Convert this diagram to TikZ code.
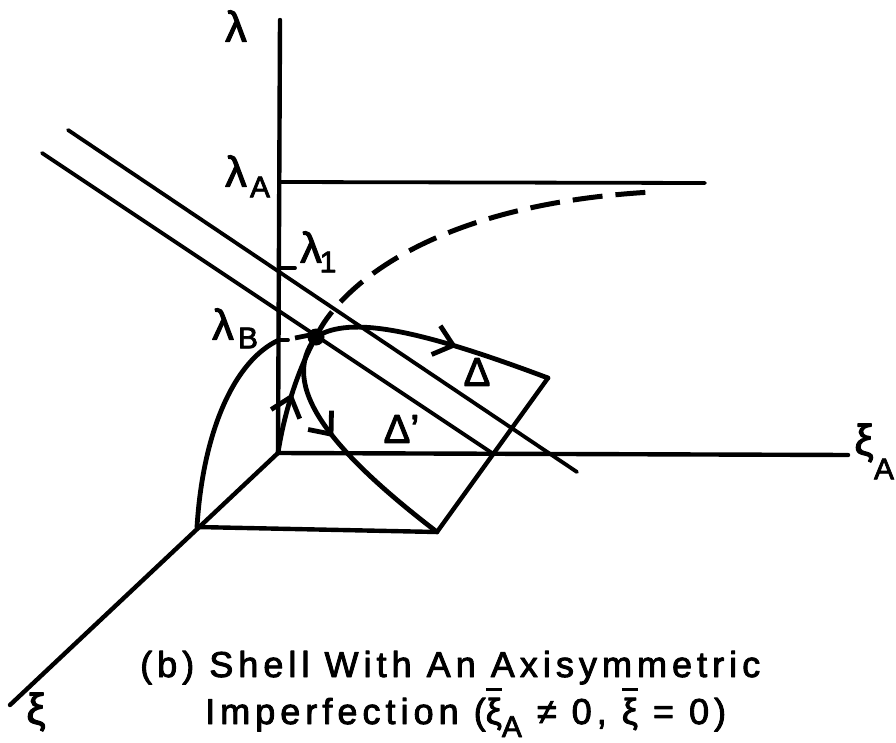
\documentclass[tikz,border=0pt]{standalone}
\usepackage{fontspec}
\setmainfont{Liberation Sans}[FakeBold=2.5]
\usetikzlibrary{arrows.meta,decorations.markings}
\newlength\mybarw
\newcommand\barred[2][33pt]{\settowidth\mybarw{#2}\rlap{\raisebox{#1}{\rule{\mybarw}{3.5pt}}}#2}
\begin{document}
\begin{tikzpicture}[x=1pt,y=-1pt,line join=round,line cap=round,
  axis/.style={line width=4.4pt},
  plane/.style={line width=3.8pt},
  curvepath/.style={line width=4.8pt},
  dashpath/.style={line width=5pt,line cap=butt,dash pattern=on 30pt off 13pt},
  lbl/.style={inner sep=0pt,font=\fontsize{43}{46}\selectfont},
  sub/.style={inner sep=0pt,font=\fontsize{30}{32}\selectfont},
  dlt/.style={inner sep=0pt,font=\fontsize{40}{42}\selectfont},
  captxt/.style={inner sep=0pt,anchor=base west,font=\fontsize{36}{40}\selectfont\addfontfeature{LetterSpace=14}},
  midarrow/.style={postaction={decorate},decoration={markings,mark=at position #1 with {\arrow{Straight Barb[length=18pt,width=30pt]}}}}
]
\fill[white] (0,0) rectangle (896,743);
\useasboundingbox (0,0) rectangle (896,743);

\coordinate (O) at (278,453);
\coordinate (Ltop) at (280,20);
\coordinate (XAend) at (848,455);
\coordinate (Xend) at (10,705);
\coordinate (P) at (197,527);
\coordinate (Q) at (437,532);
\coordinate (R) at (548,378);
\coordinate (D) at (316,337);
\coordinate (LA) at (279,182); \coordinate (LAe) at (705,183);
\coordinate (L1) at (279,268); \coordinate (L1e) at (295,268);
\coordinate (LB) at (279,340); \coordinate (LBe) at (288,340);
\coordinate (p1a) at (68,130); \coordinate (p1b) at (577,472);
\coordinate (p2a) at (42,153); \coordinate (p2b) at (492,453);
\coordinate (dEnd) at (652,192);
\coordinate (dsA) at (295,338); \coordinate (dsB) at (310,335);

% axes
\draw[axis] (Ltop) -- (O) -- (XAend);
\draw[axis] (O) -- (Xend);
% level lines and ticks
\draw[plane] (LA) -- (LAe);
\draw[plane] (L1) -- (L1e);
\draw[plane] (LB) -- (LBe);
% parallel lines
\draw[plane] (p1a) -- (p1b);
\draw[plane] (p2a) -- (p2b);
% base
\draw[axis] (P) -- (Q) -- (R);
% arc in xi-lambda plane
\draw[curvepath] (P) .. controls (203,430) and (235,360) .. (LB);
\draw[curvepath,line cap=butt] (dsA) -- (dsB);
% dashed path
\draw[dashpath] (D) .. controls (335,295) and (420,205) .. (dEnd);
% equilibrium paths
\draw[curvepath,midarrow=0.5] (O) .. controls (283,420) and (295,375) .. (D);
\draw[curvepath,midarrow=0.6] (D) .. controls (350,315) and (420,330) .. (R);
\draw[curvepath,midarrow=0.44] (D) .. controls (278,385) and (330,450) .. (Q);
\fill (D) circle[radius=8.5pt];

% labels
\node[lbl] (lam) at (236,26) {λ};
\node[lbl] (lamA) at (236,171) {λ};
\node[sub] (lamAs) at (260,187) {A};
\node[lbl] (lam1) at (311,247) {λ};
\node[sub] (lam1s) at (328,262) {1};
\node[lbl] (lamB) at (223,324) {λ};
\node[sub] (lamBs) at (248,338) {B};
\node[dlt] (Dl) at (477,372) {Δ};
\node[dlt] (Dl2) at (397,429) {Δ\rlap{'}};
\node[lbl] (xi) at (36,712) {ξ};
\node[lbl] (xiA) at (864,443) {ξ};
\node[sub] (xiAs) at (884,469) {A};

% caption
\node[captxt] (c1) at (140,677) {(b) Shell With An Axisymmetric};
\node[captxt] (c2) at (205,724) {Imperfection (\barred{ξ}\raisebox{-13pt}{\fontsize{30}{32}\selectfont A} ≠ 0, \barred{ξ} = 0)};
\end{tikzpicture}
\end{document}
